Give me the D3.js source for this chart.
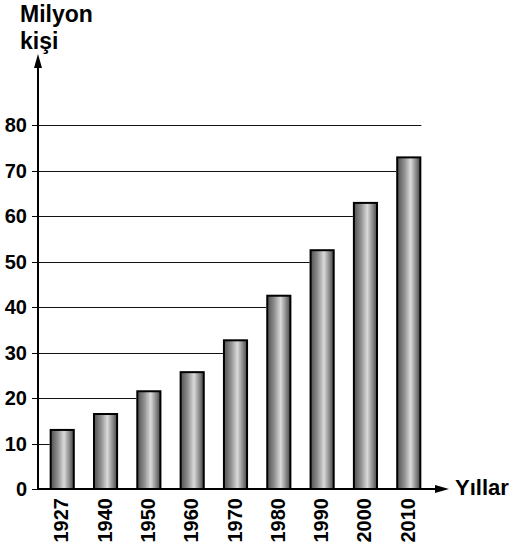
<!DOCTYPE html>
<html>
<head>
<meta charset="utf-8">
<script src="https://cdn.jsdelivr.net/npm/d3@7"></script>
<style>
  body { margin: 0; background: #fff; }
  text { font-family: "Liberation Sans", Arial, sans-serif; font-weight: bold; fill: #000; }
</style>
</head>
<body>
<div id="app"></div>
<script>
const years = ['1927', '1940', '1950', '1960', '1970', '1980', '1990', '2000', '2010'];
const population = [13.2, 16.7, 21.7, 25.9, 32.9, 42.7, 52.7, 63.1, 73.1];
const yTicks = [0, 10, 20, 30, 40, 50, 60, 70, 80];
const yTitle = ['Milyon', 'kişi'];
const xTitle = 'Yıllar';

const width = 522;
const height = 549;
const axisX = 38;
const axisY = 489;

const svg = d3.select('#app').append('svg')
  .attr('width', width)
  .attr('height', height);

const x = d3.scaleBand()
  .domain(years)
  .range([41, 430])
  .paddingInner(0.42)
  .paddingOuter(0.2);

const y = d3.scaleLinear()
  .domain([0, 80])
  .range([axisY, 125]);

// bar shading
const grad = svg.append('defs').append('linearGradient')
  .attr('id', 'barGrad')
  .attr('x1', '0%').attr('x2', '100%');
grad.append('stop').attr('offset', '0%').attr('stop-color', '#505050');
grad.append('stop').attr('offset', '30%').attr('stop-color', '#8e8e8e');
grad.append('stop').attr('offset', '58%').attr('stop-color', '#dadada');
grad.append('stop').attr('offset', '85%').attr('stop-color', '#7c7c7c');
grad.append('stop').attr('offset', '100%').attr('stop-color', '#484848');

// gridlines run from the axis to the first bar that rises above them
const lastRight = x(years[years.length - 1]) + x.bandwidth();
const gridEnd = t => {
  const i = population.findIndex(v => v > t);
  return i < 0 ? lastRight : x(years[i]);
};

svg.append('g')
  .selectAll('line')
  .data(yTicks.filter(t => t > 0))
  .join('line')
  .attr('x1', axisX)
  .attr('x2', d => gridEnd(d))
  .attr('y1', d => Math.round(y(d)) + 0.5)
  .attr('y2', d => Math.round(y(d)) + 0.5)
  .attr('stroke', '#111')
  .attr('stroke-width', 1);

// tick marks and labels
svg.append('g')
  .selectAll('line')
  .data(yTicks)
  .join('line')
  .attr('x1', 32)
  .attr('x2', axisX)
  .attr('y1', d => Math.round(y(d)) + 0.5)
  .attr('y2', d => Math.round(y(d)) + 0.5)
  .attr('stroke', '#000');

svg.append('g')
  .selectAll('text')
  .data(yTicks)
  .join('text')
  .attr('x', 27)
  .attr('y', d => y(d) + 7)
  .attr('text-anchor', 'end')
  .style('font-size', '20px')
  .text(d => d);

// bars
svg.append('g')
  .selectAll('rect')
  .data(years)
  .join('rect')
  .attr('x', d => x(d) + 1)
  .attr('y', (d, i) => y(population[i]) + 1)
  .attr('width', x.bandwidth() - 2)
  .attr('height', (d, i) => axisY - y(population[i]) - 1)
  .attr('fill', 'url(#barGrad)')
  .attr('stroke', '#000')
  .attr('stroke-width', 2);

// axes with arrows
svg.append('line')
  .attr('x1', axisX).attr('x2', axisX)
  .attr('y1', axisY + 1).attr('y2', 66)
  .attr('stroke', '#000').attr('stroke-width', 2);
svg.append('path')
  .attr('d', `M${axisX},54 L${axisX - 4},68 L${axisX + 4},68 Z`)
  .attr('fill', '#000');

svg.append('line')
  .attr('x1', axisX - 1).attr('x2', 437)
  .attr('y1', axisY).attr('y2', axisY)
  .attr('stroke', '#000').attr('stroke-width', 2);
svg.append('path')
  .attr('d', `M449,${axisY} L435,${axisY - 4} L435,${axisY + 4} Z`)
  .attr('fill', '#000');

// year labels
svg.append('g')
  .selectAll('text')
  .data(years)
  .join('text')
  .attr('transform', d => `translate(${x(d) + x.bandwidth() / 2 + 6},498) rotate(-90)`)
  .attr('text-anchor', 'end')
  .style('font-size', '20px')
  .text(d => d);

// titles
svg.append('g')
  .selectAll('text')
  .data(yTitle)
  .join('text')
  .attr('x', 20)
  .attr('y', (d, i) => 22 + i * 27)
  .style('font-size', '23px')
  .text(d => d);

svg.append('text')
  .attr('x', 455)
  .attr('y', 495)
  .style('font-size', '22px')
  .text(xTitle);
</script>
</body>
</html>
